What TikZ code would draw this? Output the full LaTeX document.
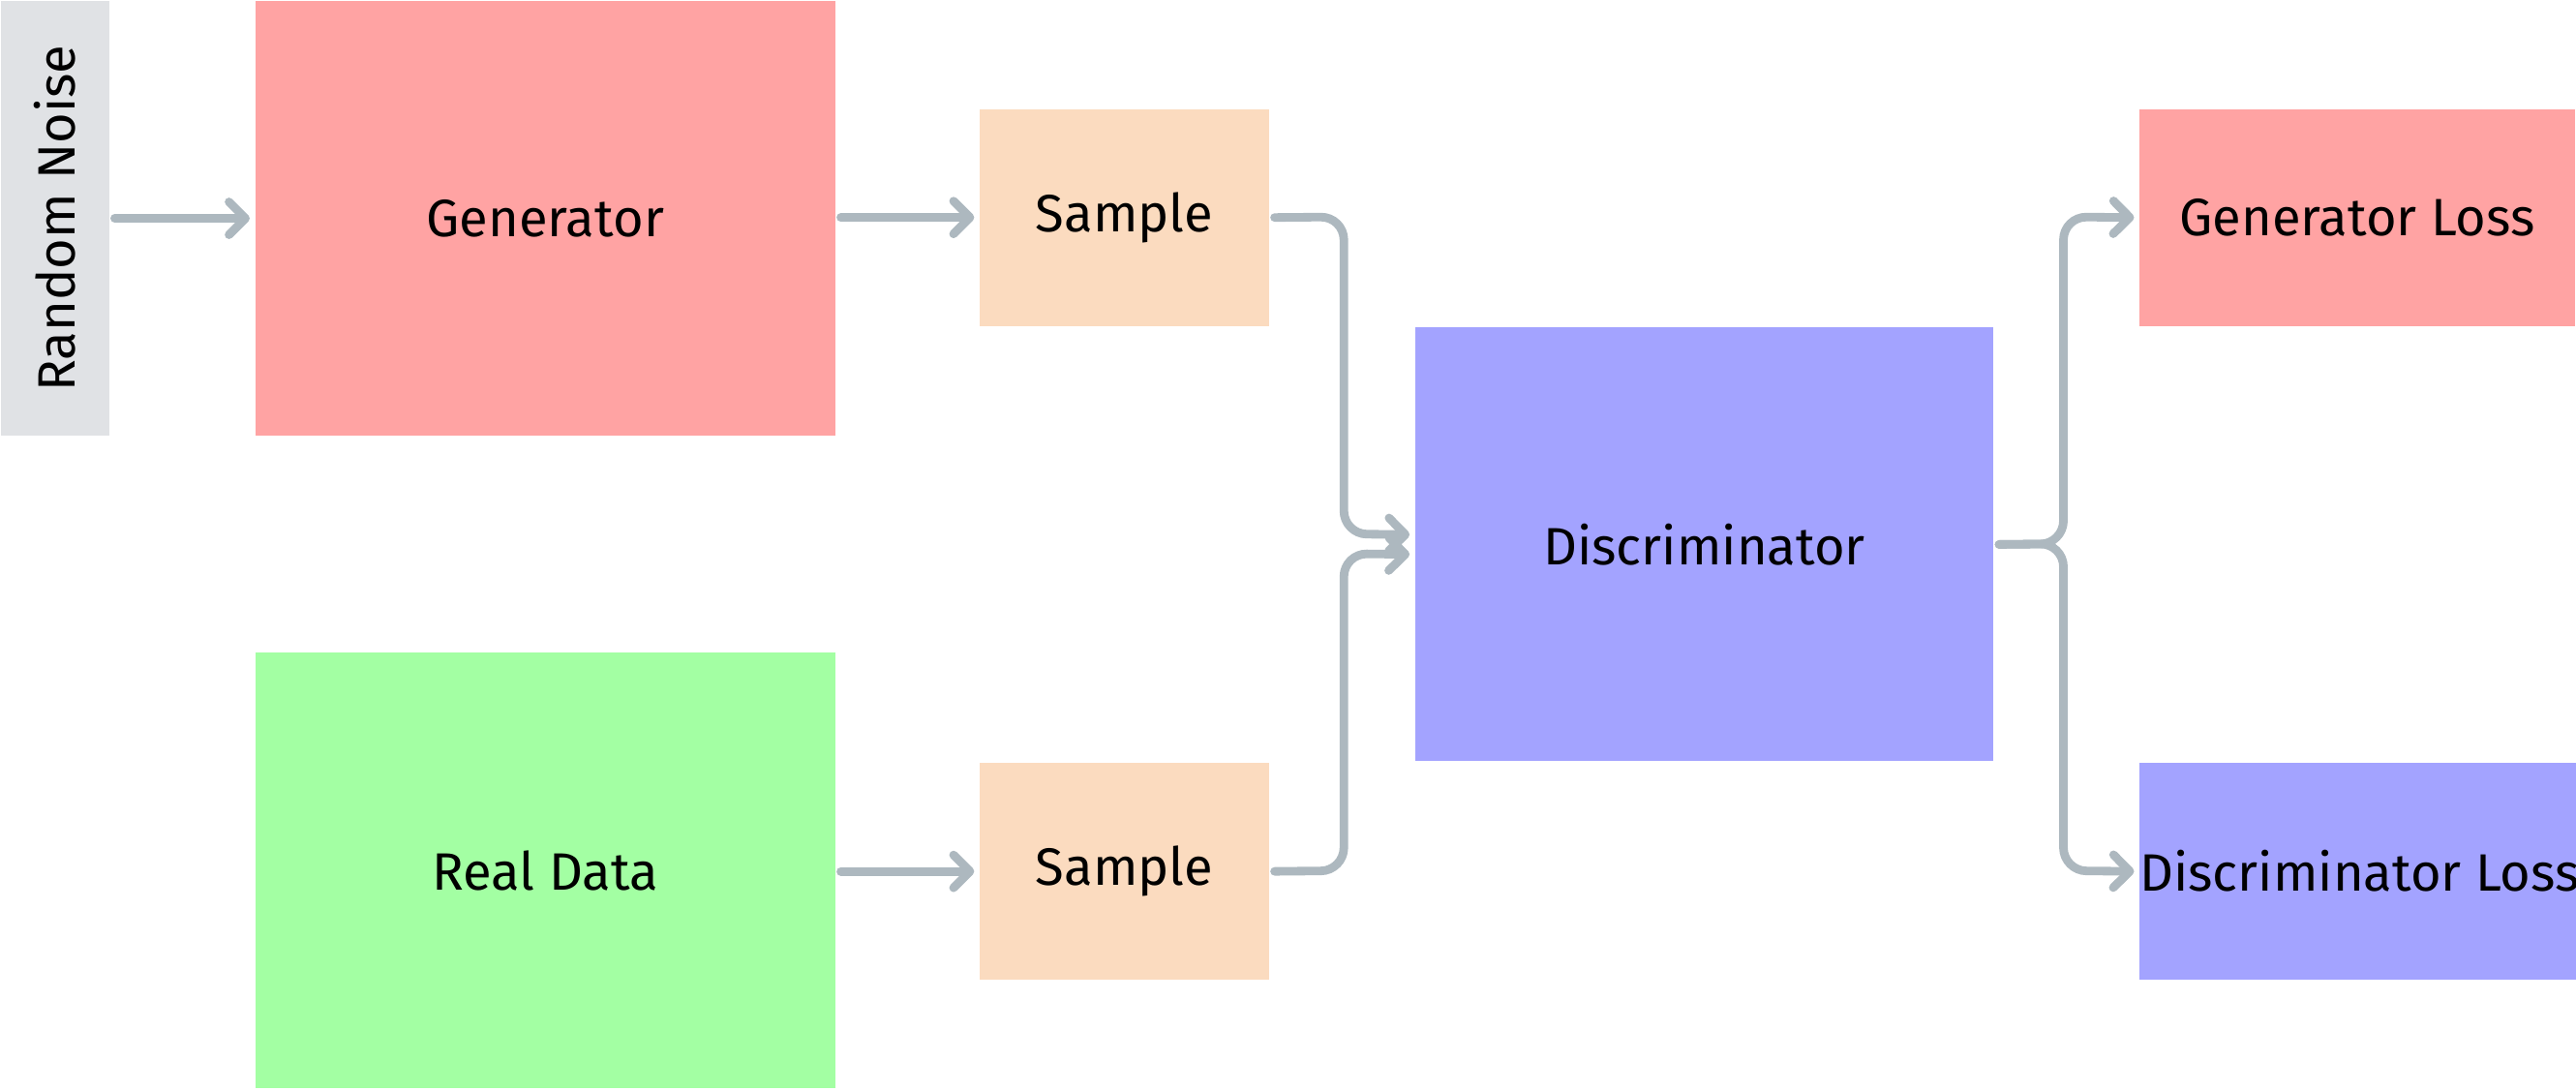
\documentclass[tikz,border=0pt]{standalone}
\usepackage{fontspec}
\setmainfont{Fira Sans}
\usetikzlibrary{arrows.meta}
\definecolor{gr}{HTML}{E0E2E5}
\definecolor{rd}{HTML}{FFA3A3}
\definecolor{gn}{HTML}{A3FFA3}
\definecolor{pe}{HTML}{FBDBBF}
\definecolor{bl}{HTML}{A3A3FF}
\definecolor{ar}{HTML}{ADB8BF}
\begin{document}
\begin{tikzpicture}[x=0.5pt,y=-0.5pt,
  box/.style={draw=none,inner sep=0,anchor=north west,font=\fontsize{16}{18}\selectfont},
  con/.style={draw=ar,line width=2.6pt,rounded corners=7pt,-{Straight Barb[length=5pt,width=10pt,line cap=round,line join=round]},line cap=round}]
\useasboundingbox (0,0) rectangle (1568,664);
\node[box,fill=gr,minimum width=33pt,minimum height=132.5pt] (rn) at (0,0) {};
\node[rotate=90,font=\fontsize{16}{18}\selectfont] at (rn.center) {Random Noise};
\node[box,fill=rd,minimum width=176.5pt,minimum height=132.5pt] (g) at (155,0) {Generator};
\node[box,fill=gn,minimum width=176.5pt,minimum height=132.5pt] (r) at (155,397) {Real Data};
\node[box,fill=pe,minimum width=88pt,minimum height=66pt] (s1) at (596,66) {Sample};
\node[box,fill=pe,minimum width=88pt,minimum height=66pt] (s2) at (596,464) {Sample};
\node[box,fill=bl,minimum width=176pt,minimum height=132pt] (d) at (861,199) {Discriminator};
\node[box,fill=rd,minimum width=132.5pt,minimum height=66pt] (gl) at (1302,66) {Generator Loss};
\node[box,fill=bl,minimum width=132.5pt,minimum height=66pt] (dl) at (1302,464) {Discriminator Loss};
\coordinate (d1) at ([yshift=3pt]d.west);
\coordinate (d2) at ([yshift=-3pt]d.west);
\draw[con] ([xshift=1.5pt]rn.east |- g.west) -- ([xshift=-1.5pt]g.west);
\draw[con] ([xshift=1.5pt]g.east |- s1.west) -- ([xshift=-1.5pt]s1.west);
\draw[con] ([xshift=1.5pt]r.east |- s2.west) -- ([xshift=-1.5pt]s2.west);
\draw[con] ([xshift=1.5pt]s1.east) -- (818,132) -- (818,325) -- ([xshift=-1.5pt]d1);
\draw[con] ([xshift=1.5pt]s2.east) -- (818,530) -- (818,337) -- ([xshift=-1.5pt]d2);
\draw[con] ([xshift=1.5pt]d.east) -- (1256,331) -- (1256,132) -- ([xshift=-1.5pt]gl.west);
\draw[con] ([xshift=1.5pt]d.east) -- (1256,331) -- (1256,530) -- ([xshift=-1.5pt]dl.west);
\end{tikzpicture}
\end{document}
